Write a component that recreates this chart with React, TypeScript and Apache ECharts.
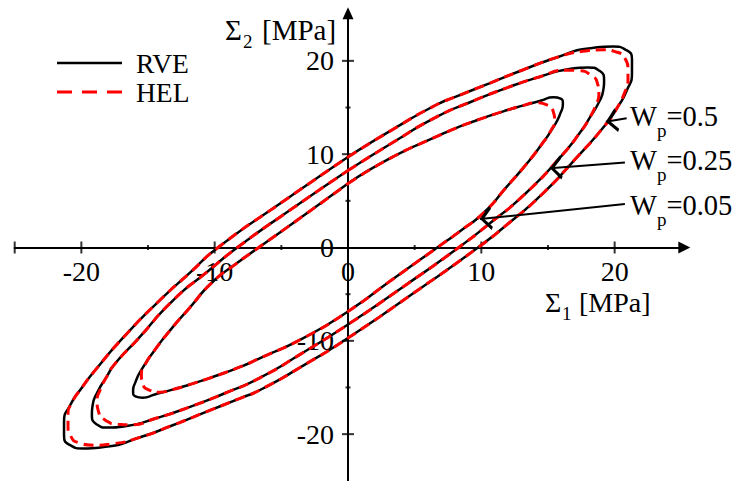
import React, { useEffect, useRef } from 'react';
import * as echarts from 'echarts';

const FONT = 'Liberation Serif';

// Loop Wp = 0.5 (outer)
const outerRVE: number[][] = [
  [0, 9.7], [3.3, 12.6], [6.6, 15.27], [8.1, 16.16], [10.6, 17.59], [13.1, 19.02], [15.6, 20.34],
  [18.2, 21.36], [19.9, 21.53], [20.87, 21.16], [21.3, 20.18], [21.3, 18.75], [20.9, 16.8],
  [20.2, 15.0], [19.3, 13.13], [17.1, 9.56], [14.5, 5.63], [12.05, 2.6], [9.75, 0], [4.9, -4.9], [0, -9.7],
  [-3.3, -12.6], [-6.6, -15.27], [-8.1, -16.16], [-10.6, -17.59], [-13.1, -19.02], [-15.6, -20.34],
  [-18.2, -21.36], [-19.9, -21.53], [-20.87, -21.16], [-21.3, -20.18], [-21.3, -18.75], [-20.8, -16.8],
  [-19.95, -15.0], [-18.95, -13.13], [-16.8, -9.56], [-14.1, -5.63], [-11.85, -2.7], [-9.75, 0], [-4.9, 4.9], [0, 9.7],
];
const outerHEL: number[][] = [
  [0, 9.7], [3.3, 12.6], [6.6, 15.27], [8.1, 16.16], [10.6, 17.59], [13.1, 19.02], [15.6, 20.34],
  [17.6, 21.02], [19.1, 21.18], [20.2, 20.92], [20.8, 20.2], [21.0, 19.1], [21.0, 17.9], [20.75, 16.6],
  [20.2, 15.0], [19.3, 13.13], [17.1, 9.56], [14.5, 5.63], [12.05, 2.6], [9.75, 0], [4.9, -4.9], [0, -9.7],
  [-3.3, -12.6], [-6.6, -15.27], [-8.1, -16.16], [-10.6, -17.59], [-13.1, -19.02], [-15.6, -20.34],
  [-17.6, -21.02], [-19.1, -21.18], [-20.2, -20.92], [-20.8, -20.2], [-21.0, -19.1], [-21.0, -17.9], [-20.7, -16.6],
  [-19.95, -15.0], [-18.95, -13.13], [-16.8, -9.56], [-14.1, -5.63], [-11.85, -2.7], [-9.75, 0], [-4.9, 4.9], [0, 9.7],
];

// Loop Wp = 0.25 (middle)
const middleRVE: number[][] = [
  [0, 8.25], [3.3, 11.2], [6.65, 14.0], [9.25, 15.62], [11.9, 17.1], [14.4, 18.3], [16.5, 19.1],
  [18.0, 19.3], [18.87, 18.93], [19.21, 17.86], [19.15, 16.88], [18.81, 15.54], [18.1, 13.84],
  [17.5, 12.5], [16.0, 9.8], [13.2, 5.63], [10.6, 2.55], [8.3, 0], [4.15, -4.2], [0, -8.25],
  [-3.3, -11.2], [-6.65, -14.0], [-9.25, -15.62], [-11.9, -17.1], [-14.4, -18.3], [-16.5, -19.1],
  [-18.0, -19.3], [-18.87, -18.93], [-19.21, -17.86], [-19.15, -16.88], [-18.81, -15.54], [-18.1, -13.84],
  [-17.5, -12.5], [-15.75, -9.8], [-13.1, -5.63], [-10.55, -2.6], [-8.3, 0], [-4.15, 4.2], [0, 8.25],
];
const middleHEL: number[][] = [
  [0, 8.25], [3.3, 11.2], [6.65, 14.0], [9.25, 15.62], [11.9, 17.1], [14.4, 18.3], [16.4, 19.0],
  [17.3, 18.95], [18.2, 18.5], [18.7, 17.65], [18.82, 16.45], [18.6, 15.3], [18.1, 13.84],
  [17.5, 12.5], [16.0, 9.8], [13.2, 5.63], [10.6, 2.55], [8.3, 0], [4.15, -4.2], [0, -8.25],
  [-3.3, -11.2], [-6.65, -14.0], [-9.25, -15.62], [-11.9, -17.1], [-14.4, -18.3], [-16.4, -19.0],
  [-17.3, -18.95], [-18.2, -18.5], [-18.7, -17.65], [-18.82, -16.45], [-18.6, -15.3], [-18.1, -13.84],
  [-17.5, -12.5], [-15.75, -9.8], [-13.1, -5.63], [-10.55, -2.6], [-8.3, 0], [-4.15, 4.2], [0, 8.25],
];

// Loop Wp = 0.05 (inner)
const innerRVE: number[][] = [
  [0, 6.85], [3.35, 9.7], [6.75, 11.95], [8.1, 12.8], [9.4, 13.5], [10.6, 14.1], [11.9, 14.7],
  [13.1, 15.2], [14.5, 15.75], [15.4, 16.1], [15.95, 15.95], [16.12, 15.4], [15.95, 14.45],
  [15.45, 13.0], [14.5, 11.0], [13.3, 8.8], [11.9, 6.5], [10.2, 3.75], [8.4, 1.75], [6.7, 0],
  [3.35, -3.4], [0, -6.85], [-3.35, -9.7], [-6.75, -11.95], [-8.1, -12.8], [-9.4, -13.5],
  [-10.6, -14.1], [-11.9, -14.7], [-13.1, -15.2], [-14.5, -15.75], [-15.4, -16.1], [-15.95, -15.95],
  [-16.12, -15.4], [-15.95, -14.45], [-15.45, -13.0], [-14.5, -11.0], [-13.3, -8.8], [-11.9, -6.5],
  [-10.2, -3.75], [-8.4, -1.75], [-6.7, 0], [-3.35, 3.4], [0, 6.85],
];
const innerHEL: number[][] = [
  [0, 6.85], [3.35, 9.7], [6.75, 11.95], [8.1, 12.8], [9.4, 13.5], [10.6, 14.1], [11.9, 14.7],
  [13.1, 15.2], [14.1, 15.5], [14.95, 15.25], [15.4, 14.55], [15.5, 13.6], [15.2, 12.5],
  [14.5, 11.0], [13.3, 8.8], [11.9, 6.5], [10.2, 3.75], [8.4, 1.75], [6.7, 0],
  [3.35, -3.4], [0, -6.85], [-3.35, -9.7], [-6.75, -11.95], [-8.1, -12.8], [-9.4, -13.5],
  [-10.6, -14.1], [-11.9, -14.7], [-13.1, -15.2], [-14.1, -15.5], [-14.95, -15.25], [-15.4, -14.55],
  [-15.5, -13.6], [-15.2, -12.5], [-14.5, -11.0], [-13.3, -8.8], [-11.9, -6.5],
  [-10.2, -3.75], [-8.4, -1.75], [-6.7, 0], [-3.35, 3.4], [0, 6.85],
];

const xLabelValues = [-20, -10, 0, 10, 20];
const yLabelValues = [-20, -10, 0, 10, 20];
const xMajorTicks = [-25, -20, -10, 10, 20];
const xMinorTicks = [-15, -5, 5, 15];
const yMajorTicks = [-20, -10, 10, 20];
const yMinorTicks = [-15, -5, 5, 15];

const wpValues = ['0.5', '0.25', '0.05'];
const arrowFrom: number[][] = [[20.9, 13.84], [20.77, 9.12], [20.77, 4.66]];
const arrowTo: number[][] = [[19.34, 13.48], [15.15, 8.48], [9.9, 3.05]];

const CHEVRON = 'path://M6,0 L6.01,0 L6,0.01 Z M6,12 L12,22.5 L10.5,24 L6,16 L1.5,24 L0,22.5 Z';
const ICON_SOLID = 'path://M0,0 L0.01,0 L0,0.01 Z M0,14 L0.01,14 L0,13.99 Z M0,5.75 H65 V8.25 H0 Z';
const ICON_DASH =
  'path://M0,0 L0.01,0 L0,0.01 Z M0,14 L0.01,14 L0,13.99 Z M0,5.5 H15 V8.5 H0 Z M25,5.5 H40 V8.5 H25 Z M50,5.5 H65 V8.5 H50 Z';

function plainText(x: number, y: number, text: string, size: number, lineHeight: number) {
  return {
    type: 'text',
    x,
    y,
    silent: true,
    z: 10,
    style: {
      text,
      align: 'left',
      verticalAlign: 'middle',
      fill: '#000',
      fontSize: size,
      fontFamily: FONT,
      lineHeight,
    },
  };
}

function richLabel(x: number, y: number, text: string, subPad: number, size: number) {
  return {
    type: 'text',
    x,
    y,
    silent: true,
    z: 10,
    style: {
      text,
      align: 'left',
      verticalAlign: 'middle',
      fill: '#000',
      rich: {
        m: { fontSize: size, fontFamily: FONT, fill: '#000' },
        s: { fontSize: Math.round(size * 0.66), fontFamily: FONT, fill: '#000', padding: [subPad, 0, 0, 0] },
      },
    },
  };
}

export default function App() {
  const ref = useRef<HTMLDivElement>(null);
  useEffect(() => {
    if (!ref.current) return;
    const chart = echarts.init(ref.current, undefined, { renderer: 'svg' });
    const loopRVE = (data: number[][]) => ({
      type: 'line',
      name: 'RVE',
      data,
      smooth: 0.6,
      symbol: 'none',
      showSymbol: false,
      silent: true,
      z: 3,
      lineStyle: { color: '#000', width: 2.5 },
      itemStyle: { color: '#000' },
    });
    const loopHEL = (data: number[][]) => ({
      type: 'line',
      name: 'HEL',
      data,
      smooth: 0.6,
      symbol: 'none',
      showSymbol: false,
      silent: true,
      z: 4,
      lineStyle: { color: '#ff0000', width: 3, type: [10, 6] },
      itemStyle: { color: '#ff0000' },
    });
    const tickSeries = (data: number[][], size: number[]) => ({
      type: 'scatter',
      data,
      symbol: 'rect',
      symbolSize: size,
      silent: true,
      z: 1,
      itemStyle: { color: '#000' },
    });
    const labelStyle = { fontFamily: FONT, fontSize: 28, color: '#000' };
    const gridW = 666.6;
    const gridH = 466.6;
    chart.setOption({
      animation: false,
      backgroundColor: '#fff',
      grid: { left: 14.7, top: 14.2, width: gridW, height: gridH, containLabel: false, outerBoundsMode: 'none' },
      xAxis: {
        type: 'value',
        min: -25,
        max: 25,
        interval: 5,
        position: 'bottom',
        offset: -gridH / 2,
        axisLine: {
          onZero: false,
          lineStyle: { color: '#000', width: 2 },
          symbol: ['none', 'triangle'],
          symbolSize: [12, 12],
          symbolOffset: [0, 3],
        },
        axisTick: { show: false },
        splitLine: { show: false },
        axisLabel: {
          ...labelStyle,
          lineHeight: 22,
          margin: 13,
          formatter: (v: number) => (xLabelValues.includes(v) ? String(v) : ''),
        },
      },
      yAxis: {
        type: 'value',
        min: -25,
        max: 25,
        interval: 5,
        position: 'left',
        offset: -gridW / 2,
        axisLine: {
          onZero: false,
          lineStyle: { color: '#000', width: 2 },
          symbol: ['none', 'triangle'],
          symbolSize: [11, 12],
          symbolOffset: [0, 1],
        },
        axisTick: { show: false },
        splitLine: { show: false },
        axisLabel: {
          ...labelStyle,
          margin: 14,
          formatter: (v: number) => (yLabelValues.includes(v) ? String(v) : ''),
        },
      },
      legend: {
        data: [
          { name: 'RVE', icon: ICON_SOLID },
          { name: 'HEL', icon: ICON_DASH },
        ],
        orient: 'vertical',
        left: 57,
        top: 49,
        padding: 0,
        itemWidth: 65,
        itemHeight: 14,
        itemGap: 1,
        selectedMode: false,
        itemStyle: { borderWidth: 0 },
        textStyle: { fontFamily: FONT, fontSize: 27.5, color: '#000', lineHeight: 22, padding: [0, 0, 0, 9] },
      },
      graphic: [
        plainText(225, 30, 'Σ', 29, 24),
        plainText(243, 41.5, '2', 19, 16),
        plainText(262, 30, '[MPa]', 29, 24),
        plainText(545, 302.5, 'Σ', 28, 24),
        plainText(562, 313, '1', 19, 16),
        plainText(579, 302.5, '[MPa]', 28, 24),
        ...wpValues.map((w, i) => richLabel(630, [116, 160, 205][i], `{m|W}{s|p}{m|=${w}}`, 28, 28.5)),
      ],
      series: [
        tickSeries(xMajorTicks.map((v) => [v, 0]), [2, 12]),
        tickSeries(xMinorTicks.map((v) => [v, 0]), [2, 5]),
        tickSeries(yMajorTicks.map((v) => [0, v]), [12, 2]),
        tickSeries(yMinorTicks.map((v) => [0, v]), [5, 2]),
        loopRVE(outerRVE),
        loopRVE(middleRVE),
        loopRVE(innerRVE),
        loopHEL(outerHEL),
        loopHEL(middleHEL),
        loopHEL(innerHEL),
        {
          type: 'lines',
          coordinateSystem: 'cartesian2d',
          silent: true,
          z: 6,
          symbol: ['none', CHEVRON],
          symbolSize: [12, 24],
          lineStyle: { color: '#000', width: 2, opacity: 1, curveness: 0 },
          data: arrowFrom.map((f, i) => ({ coords: [f, arrowTo[i]] })),
        },
      ],
    });
    return () => chart.dispose();
  }, []);
  return <div ref={ref} style={{ position: 'fixed', left: 0, top: 0, width: 741, height: 481, background: '#fff' }} />;
}
